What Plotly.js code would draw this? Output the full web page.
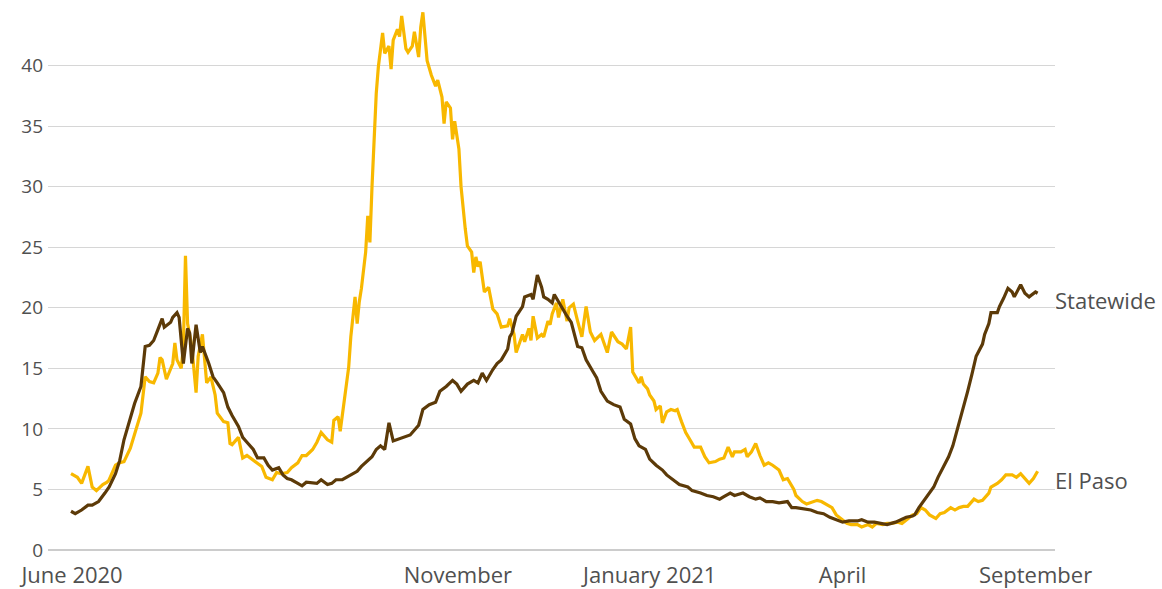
<!DOCTYPE html>
<html>
<head>
<meta charset="utf-8">
<script src="https://cdn.plot.ly/plotly-3.0.1.min.js"></script>
<style>
  html, body { margin: 0; padding: 0; background: #fff; }
  #chart { width: 1162px; height: 589px; }
</style>
</head>
<body>
<div id="chart"></div>
<script>
// Days since 1 June 2020 and positivity values (%)
const statewideDays = [0,2,5,8,10,13,16,18,21,23,25,28,30,33,34,35,37,39,41,43,44,47,48,50,51,53,55,56,57,59,61,62,65,67,69,72,74,76,79,81,83,86,88,91,93,95,98,100,102,104,107,109,111,114,116,118,121,123,125,128,130,133,135,137,140,142,144,146,148,150,152,155,160,164,166,169,172,174,177,180,182,184,187,190,192,194,196,199,201,203,206,207,208,210,213,214,217,218,220,222,223,225,227,228,230,232,234,236,239,241,243,246,248,250,253,256,259,261,264,266,268,271,273,276,279,281,284,287,291,293,297,300,303,306,308,311,313,317,320,323,325,328,331,334,338,340,342,345,349,352,355,358,361,364,367,371,373,376,379,382,385,389,392,394,397,398,400,402,404,407,409,411,414,416,418,421,423,425,427,430,431,433,434,437,438,440,442,444,445,448,450,452,455,456];
const statewideValues = [3.2,3.0,3.3,3.7,3.7,4.0,4.7,5.2,6.3,7.4,9.1,11.0,12.1,13.5,15.4,16.8,16.9,17.3,18.2,19.1,18.4,18.8,19.2,19.6,19.2,15.4,18.3,17.9,15.4,18.6,16.3,16.8,15.4,14.3,13.8,13.0,11.8,11.1,10.2,9.3,8.9,8.3,7.6,7.6,7.0,6.6,6.8,6.2,5.9,5.8,5.5,5.3,5.6,5.5,5.5,5.8,5.4,5.5,5.8,5.8,6.0,6.3,6.5,6.9,7.4,7.7,8.3,8.6,8.3,10.5,9.0,9.2,9.5,10.3,11.6,12.0,12.2,13.1,13.5,14.0,13.7,13.1,13.7,14.0,13.8,14.6,14.0,14.9,15.4,15.7,16.6,17.6,17.9,19.3,20.1,20.9,21.1,20.7,22.7,21.7,20.9,20.7,20.4,21.1,20.5,19.8,19.3,18.8,16.8,16.7,15.7,14.8,14.2,13.1,12.3,12.0,11.8,10.8,10.4,9.2,8.6,8.3,7.5,7.0,6.6,6.2,5.8,5.4,5.2,4.9,4.7,4.5,4.4,4.2,4.4,4.7,4.5,4.7,4.4,4.2,4.3,4.0,4.0,3.9,4.0,3.5,3.5,3.4,3.3,3.1,3.0,2.7,2.5,2.3,2.4,2.4,2.5,2.3,2.3,2.2,2.1,2.3,2.5,2.7,2.8,2.9,3.5,4.0,4.5,5.2,6.0,6.7,7.7,8.6,9.9,11.6,13.1,14.5,16.0,17.0,17.8,18.7,19.6,19.6,20.1,20.8,21.6,21.3,20.9,21.9,21.2,20.9,21.3,21.2];

const elPasoDays = [0,3,5,8,10,12,15,17,18,21,23,25,28,30,33,35,37,39,41,42,43,45,47,48,49,50,52,53,54,55,57,59,60,62,64,66,68,69,72,74,75,76,79,81,83,86,88,90,92,95,97,99,102,104,107,109,111,114,116,118,121,123,124,126,127,129,131,132,134,135,136,137,139,140,141,142,143,144,145,147,148,150,151,152,154,155,156,158,159,161,162,164,165,166,168,170,172,173,175,176,177,179,180,181,183,184,186,187,189,190,191,192,193,195,197,199,201,203,206,207,209,210,211,213,214,216,217,218,220,222,223,225,226,227,229,230,232,234,235,237,239,241,243,245,247,250,253,255,258,260,262,264,265,268,269,270,272,273,275,276,278,279,281,283,285,286,288,290,292,294,297,299,301,304,306,308,310,312,313,316,318,319,321,323,325,327,329,331,334,336,338,341,342,345,347,350,352,354,357,359,361,364,366,368,371,373,376,378,380,383,385,387,390,392,394,397,399,401,403,405,408,410,412,415,417,419,421,423,426,428,430,433,434,437,439,441,444,446,448,450,452,454,456];
const elPasoValues = [6.3,6.0,5.5,6.9,5.2,4.9,5.4,5.6,5.8,7.0,7.2,7.3,8.4,9.6,11.3,14.3,13.9,13.8,14.6,15.9,15.7,14.1,15.0,15.4,17.1,15.7,15.0,16.8,24.3,18.7,16.8,13.0,16.0,17.8,13.8,14.3,12.8,11.3,10.6,10.5,8.8,8.7,9.3,7.6,7.8,7.4,7.2,6.9,6.0,5.8,6.4,6.3,6.4,6.8,7.2,7.8,7.8,8.3,8.9,9.7,9.1,8.9,10.7,11.0,9.8,12.4,15.1,17.6,20.9,18.7,20.5,21.6,24.6,27.6,25.4,30.0,34.4,37.7,39.9,42.7,41.0,41.6,39.7,42.1,43.0,42.4,44.1,41.4,41.1,41.6,42.8,40.7,43.2,44.4,40.4,39.2,38.3,38.8,37.4,35.2,37.0,36.5,33.9,35.4,33.1,30.0,26.5,25.1,24.6,22.9,24.2,23.4,23.8,21.3,21.7,19.9,19.5,18.4,18.5,19.1,17.8,16.3,16.8,17.8,17.2,18.3,17.3,19.3,17.5,17.8,17.6,18.9,18.6,19.5,20.4,19.2,20.7,18.9,20.0,20.3,18.9,17.6,20.1,18.0,17.3,17.8,16.3,18.0,17.2,17.0,16.6,18.4,14.7,13.8,14.3,13.7,13.3,12.8,12.3,11.6,11.9,10.5,11.4,11.6,11.5,11.6,10.6,9.7,9.1,8.5,8.5,7.7,7.2,7.3,7.5,7.6,8.5,7.7,8.1,8.1,8.3,7.7,8.1,8.8,7.8,7.0,7.2,7.0,6.6,5.8,5.9,5.0,4.5,4.0,3.8,4.0,4.1,4.0,3.7,3.5,2.9,2.5,2.2,2.1,2.1,1.9,2.1,1.9,2.2,2.1,2.2,2.2,2.3,2.2,2.5,2.9,3.0,3.5,3.3,2.9,2.6,3.0,3.1,3.5,3.3,3.5,3.6,3.6,4.2,4.0,4.1,4.7,5.2,5.5,5.8,6.2,6.2,6.0,6.3,5.9,5.5,5.9,6.5];

const xTickDays = [0.5, 182.5, 273, 364, 455];
const xTickLabels = ["June 2020", "November", "January 2021", "April", "September"];
const yTickVals = [0, 5, 10, 15, 20, 25, 30, 35, 40];
const seriesNames = ["El Paso", "Statewide"];

const colElPaso = "#f8b800";
const colState = "#5c3a08";
const textCol = "#505050";
const fontFam = "'Open Sans', 'Noto Sans', sans-serif";

const traces = [
  { x: elPasoDays, y: elPasoValues, name: seriesNames[0], type: "scatter", mode: "lines",
    line: { color: colElPaso, width: 3.2 }, hoverinfo: "skip" },
  { x: statewideDays, y: statewideValues, name: seriesNames[1], type: "scatter", mode: "lines",
    line: { color: colState, width: 3.2 }, hoverinfo: "skip" }
];

const lastS = statewideDays.length - 1;
const lastE = elPasoDays.length - 1;

const layout = {
  width: 1162, height: 589,
  margin: { l: 48, r: 107, t: 5, b: 39 },
  paper_bgcolor: "#ffffff", plot_bgcolor: "#ffffff",
  showlegend: false,
  font: { family: fontFam, color: textCol, size: 19 },
  xaxis: {
    type: "linear", range: [-10.85, 464.2],
    tickmode: "array", tickvals: xTickDays, ticktext: xTickLabels,
    showgrid: false, zeroline: false, showline: false, ticks: "",
    tickfont: { size: 22, color: textCol, family: fontFam },
    ticklabelstandoff: 10
  },
  yaxis: {
    range: [0, 45], tickmode: "array", tickvals: yTickVals,
    showgrid: true, gridcolor: "#d6d6d6", gridwidth: 1,
    zeroline: true, zerolinecolor: "#cccccc", zerolinewidth: 1.5,
    showline: false, ticks: "",
    tickfont: { size: 19, color: textCol, family: fontFam },
    ticklabelstandoff: 4
  },
  annotations: [
    { x: statewideDays[lastS], y: statewideValues[lastS], text: seriesNames[1],
      xanchor: "left", yanchor: "middle", xshift: 15, yshift: -7, showarrow: false,
      font: { size: 22, color: textCol, family: fontFam } },
    { x: elPasoDays[lastE], y: elPasoValues[lastE], text: seriesNames[0],
      xanchor: "left", yanchor: "middle", xshift: 15, yshift: -9, showarrow: false,
      font: { size: 22, color: textCol, family: fontFam } }
  ]
};

Plotly.newPlot("chart", traces, layout, { staticPlot: true, displayModeBar: false });
</script>
</body>
</html>
